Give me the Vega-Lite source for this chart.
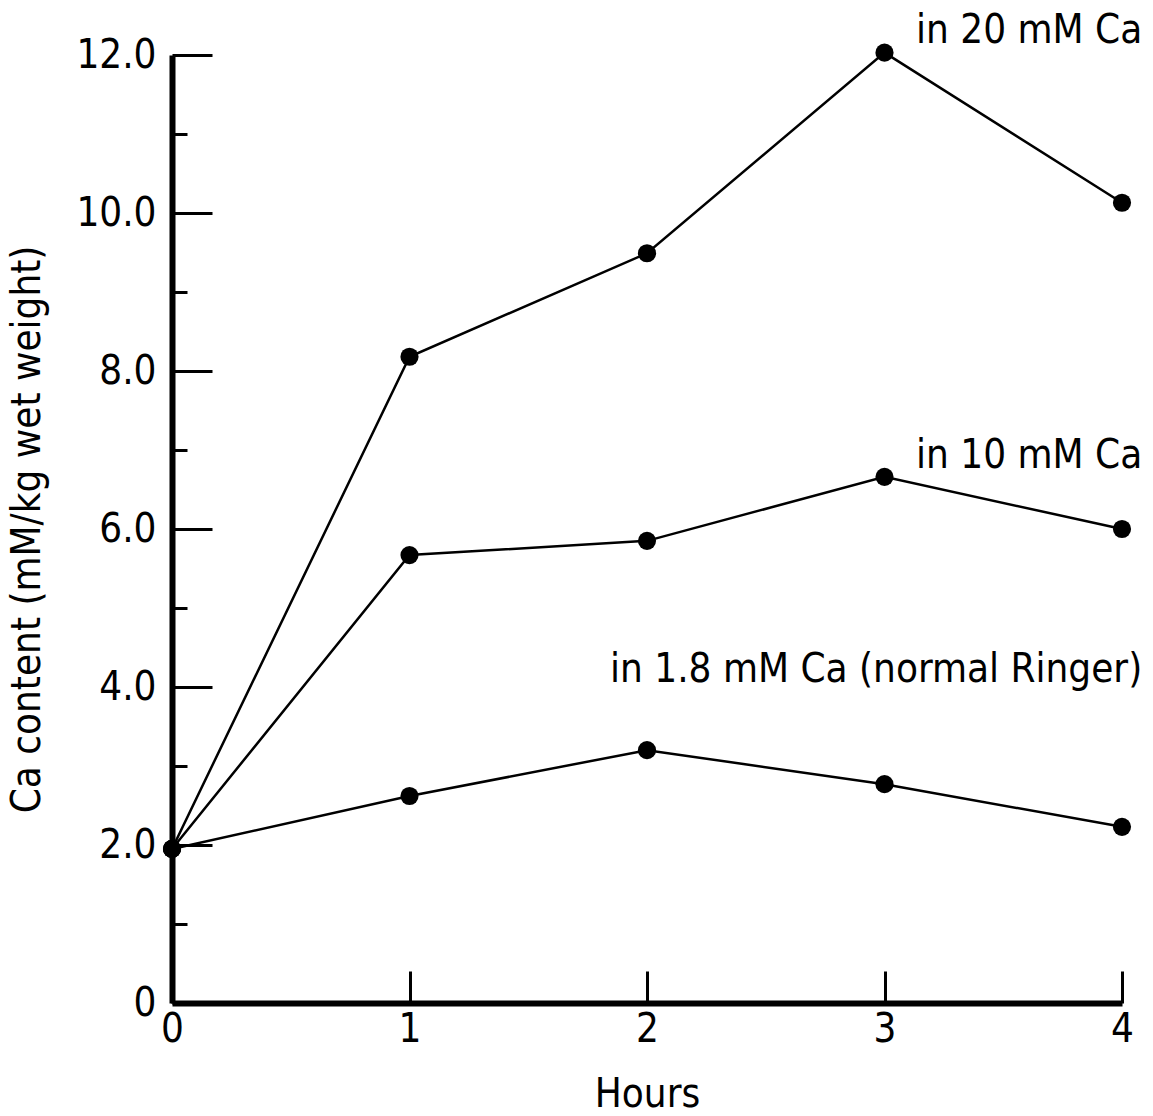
{
  "$schema": "https://vega.github.io/schema/vega-lite/v6.json",
  "width": 950,
  "height": 948,
  "autosize": {"type": "none"},
  "padding": {"left": 172, "top": 55, "right": 31, "bottom": 113},
  "background": "white",
  "config": {
    "view": {"stroke": null},
    "font": "DejaVu Sans Condensed",
    "axis": {
      "grid": false,
      "domainColor": "black",
      "domainWidth": 6,
      "tickColor": "black",
      "tickWidth": 3,
      "labelColor": "black",
      "titleColor": "black",
      "labelFont": "DejaVu Sans Condensed",
      "titleFont": "DejaVu Sans Condensed",
      "labelFontSize": 40,
      "titleFontSize": 40,
      "titleFontWeight": "normal",
      "labelFlush": false
    }
  },
  "layer": [
    {
      "data": {"values": [
        {"hours": 0, "ca": 1.95, "series": "20 mM"},
        {"hours": 1, "ca": 8.18, "series": "20 mM"},
        {"hours": 2, "ca": 9.49, "series": "20 mM"},
        {"hours": 3, "ca": 12.03, "series": "20 mM"},
        {"hours": 4, "ca": 10.13, "series": "20 mM"},
        {"hours": 0, "ca": 1.95, "series": "10 mM"},
        {"hours": 1, "ca": 5.67, "series": "10 mM"},
        {"hours": 2, "ca": 5.85, "series": "10 mM"},
        {"hours": 3, "ca": 6.66, "series": "10 mM"},
        {"hours": 4, "ca": 6.0, "series": "10 mM"},
        {"hours": 0, "ca": 1.95, "series": "1.8 mM"},
        {"hours": 1, "ca": 2.62, "series": "1.8 mM"},
        {"hours": 2, "ca": 3.2, "series": "1.8 mM"},
        {"hours": 3, "ca": 2.77, "series": "1.8 mM"},
        {"hours": 4, "ca": 2.23, "series": "1.8 mM"}
      ]},
      "layer": [
        {
          "mark": {"type": "line", "color": "black", "strokeWidth": 2.5},
          "encoding": {
            "x": {"field": "hours", "type": "quantitative"},
            "y": {"field": "ca", "type": "quantitative"},
            "detail": {"field": "series"}
          }
        },
        {
          "mark": {"type": "point", "shape": "circle", "filled": true, "color": "black", "opacity": 1, "size": 330},
          "encoding": {
            "x": {"field": "hours", "type": "quantitative"},
            "y": {"field": "ca", "type": "quantitative"}
          }
        }
      ]
    },
    {
      "data": {"values": [
        {"label": "in 20 mM Ca", "lx": 4.085, "ly": 12.3},
        {"label": "in 10 mM Ca", "lx": 4.085, "ly": 6.93},
        {"label": "in 1.8 mM Ca (normal Ringer)", "lx": 4.085, "ly": 4.22}
      ]},
      "mark": {"type": "text", "align": "right", "baseline": "middle", "fontSize": 40, "font": "DejaVu Sans Condensed", "color": "black", "clip": false},
      "encoding": {
        "x": {"field": "lx", "type": "quantitative"},
        "y": {"field": "ly", "type": "quantitative"},
        "text": {"field": "label"}
      }
    }
  ],
  "encoding": {
    "x": {
      "type": "quantitative",
      "scale": {"domain": [0, 4], "nice": false, "zero": true},
      "axis": {
        "title": "Hours",
        "values": [0, 1, 2, 3, 4],
        "tickSize": -32,
        "labelPadding": 38,
        "labelFlush": false,
        "labelExpr": "format(datum.value, 'd')",
        "titlePadding": 25
      }
    },
    "y": {
      "type": "quantitative",
      "scale": {"domain": [0, 12], "nice": false},
      "axis": {
        "title": "Ca content (mM/kg wet weight)",
        "values": [0, 1, 2, 3, 4, 5, 6, 7, 8, 9, 10, 11, 12],
        "tickSize": {"condition": {"test": "datum.value % 2 == 0", "value": -40}, "value": -15},
        "labelExpr": "datum.value % 2 == 1 ? '' : (datum.value == 0 ? '0' : format(datum.value, '.1f'))",
        "labelPadding": 56,
        "labelFlush": false,
        "titlePadding": 28
      }
    }
  }
}
